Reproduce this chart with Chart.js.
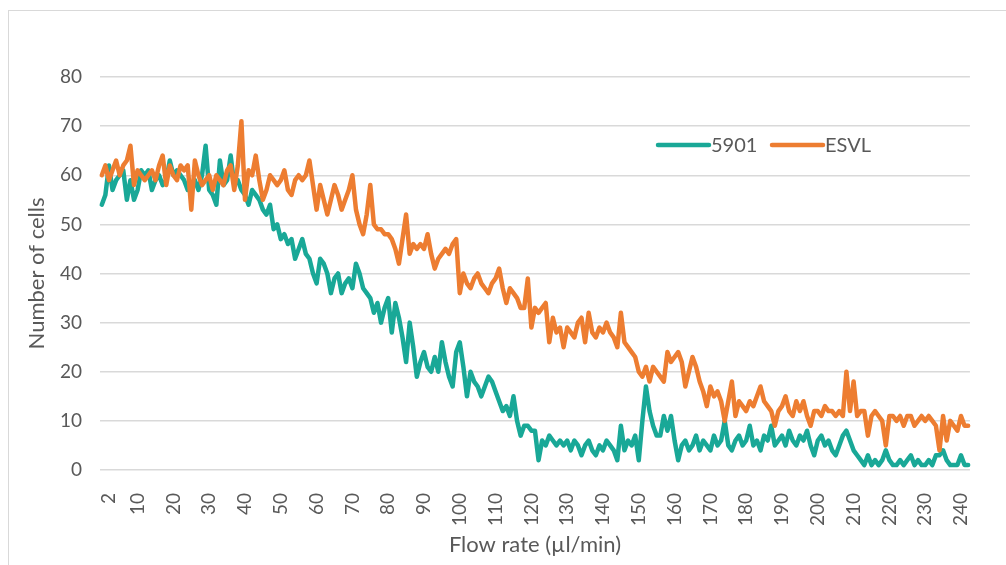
<!DOCTYPE html>
<html>
<head>
<meta charset="utf-8">
<title>Number of cells vs flow rate</title>
<script src="https://cdn.jsdelivr.net/npm/chart.js@4.4.1/dist/chart.umd.min.js"></script>
<style>
  html, body { margin: 0; padding: 0; background: #fff; overflow: hidden; }
  #frame { position: absolute; left: 8px; top: 10px; width: 1200px; height: 800px;
           border: 1px solid #d9d9d9; pointer-events: none; }
  #chart { position: absolute; left: 0; top: 0; }
</style>
</head>
<body>
<div id="frame"></div>
<canvas id="chart" width="1006" height="565"></canvas>
<script>
// flow rate categories (µl/min), one per measurement
const flowRate = [];
for (let f = 0; f <= 242; f++) flowRate.push(f);

// which categories get a label on the x axis
const labeledRates = [2, 10, 20, 30, 40, 50, 60, 70, 80, 90, 100, 110, 120,
    130, 140, 150, 160, 170, 180, 190, 200, 210, 220, 230, 240];

const yTicks = { min: 0, max: 80, step: 10 };

// number of cells, strain 5901
const cells5901 = [
    54, 56, 62, 57, 59, 60, 61, 55,
    59, 55, 57, 61, 60, 61, 57, 59, 60, 58,
    59, 63, 60, 61, 60, 59, 57, 58, 59, 57,
    60, 66, 57, 56, 54, 63, 58, 59, 64, 58,
    59, 57, 56, 54, 57, 56, 55, 53, 52, 54,
    49, 50, 47, 48, 46, 47, 43, 45, 47, 44,
    43, 40, 38, 43, 42, 40, 36, 39, 40, 36,
    38, 39, 37, 42, 40, 37, 36, 35, 32, 34,
    30, 33,
    35, 28, 34, 31, 27, 22, 30, 25, 19,
    22, 24, 21, 20, 23, 20, 26, 22, 19, 17,
    24, 26, 21, 15, 20, 18, 17, 15, 17, 19,
    18, 16, 14, 12, 13, 11, 15, 10, 7, 9,
    9, 8, 8, 2, 6, 5, 7, 6, 5, 6,
    5, 6, 4, 6, 5, 3, 5, 6, 4, 3,
    5, 4, 6, 5, 4, 2, 9, 4, 6, 5,
    7, 2, 10, 17, 12, 9, 7, 7, 11, 8,
    11, 6,
    2, 5, 6, 4, 5, 7, 4, 6, 5,
    4, 7, 5, 6, 10, 5, 4, 6, 7, 5,
    6, 9, 5, 6, 4, 7, 6, 9, 5, 6,
    7, 5, 8, 6, 5, 7, 6, 8, 5, 3,
    6, 7, 5, 6, 4, 3, 5, 7, 8, 6,
    4, 3, 2, 1, 3, 1, 2, 1, 2, 4,
    2, 1, 1, 2, 1, 2, 3, 1, 2, 1,
    1, 2, 1, 3, 3, 4, 2, 1, 1, 1,
    3, 1, 1
];

// number of cells, strain ESVL
const cellsESVL = [
    60, 62, 59, 61, 63, 60, 62, 63,
    66, 58, 61, 60, 59, 60, 61, 59, 62, 64,
    58, 62, 60, 59, 62, 61, 62, 53, 63, 60,
    58, 59, 60, 57, 60, 59, 58, 61, 62, 57,
    62, 71, 55, 61, 60, 64, 59, 55, 57, 60,
    59, 58, 59, 61, 57, 56, 59, 60, 59, 60,
    63, 58, 53, 58, 55, 52, 55, 58, 56, 53,
    55, 57, 60, 53, 50, 48, 52, 58, 50, 49,
    49, 48,
    48, 47, 45, 42, 47, 52, 44, 46, 45,
    46, 45, 48, 44, 41, 43, 44, 45, 44, 46,
    47, 36, 40, 38, 37, 39, 40, 38, 37, 36,
    38, 39, 41, 37, 34, 37, 36, 35, 33, 33,
    39, 29, 33, 32, 33, 34, 26, 31, 28, 29,
    25, 29, 28, 27, 30, 31, 26, 32, 28, 27,
    29, 28, 30, 28, 27, 25, 32, 26, 25, 24,
    23, 20, 19, 21, 18, 21, 20, 19, 18, 24,
    22, 23,
    24, 22, 17, 20, 23, 21, 18, 16, 13,
    17, 15, 16, 14, 10, 14, 18, 11, 14, 13,
    12, 14, 13, 15, 17, 14, 13, 12, 9, 12,
    13, 15, 12, 11, 14, 12, 14, 11, 9, 12,
    12, 11, 13, 12, 12, 11, 12, 11, 20, 12,
    18, 11, 12, 12, 7, 11, 12, 11, 10, 5,
    11, 11, 10, 11, 9, 11, 11, 9, 10, 11,
    10, 11, 10, 9, 4, 11, 6, 10, 9, 8,
    11, 9, 9
];

const TEAL = '#19a897';
const ORANGE = '#ed7d31';
const TEXT = '#595959';
const FONT = 'Lato';

// legend sits inside the plot, top right, like the Excel one
const insideLegend = {
    id: 'insideLegend',
    afterDraw(chart) {
        const ctx = chart.ctx;
        const items = [
            { label: '5901', color: TEAL, x: 658 },
            { label: 'ESVL', color: ORANGE, x: 772 }
        ];
        const y = 145;
        ctx.save();
        ctx.lineWidth = 4.5;
        ctx.lineCap = 'round';
        ctx.font = '20px ' + FONT;
        ctx.textBaseline = 'middle';
        ctx.fillStyle = TEXT;
        items.forEach(it => {
            ctx.strokeStyle = it.color;
            ctx.beginPath();
            ctx.moveTo(it.x, y);
            ctx.lineTo(it.x + 51, y);
            ctx.stroke();
            ctx.fillText(it.label, it.x + 53, y + 1);
        });
        ctx.restore();
    }
};

new Chart(document.getElementById('chart'), {
    type: 'line',
    data: {
        labels: flowRate,
        datasets: [
            {
                label: '5901',
                data: cells5901,
                borderColor: TEAL,
                backgroundColor: TEAL,
                borderWidth: 4.5,
                pointRadius: 0,
                tension: 0,
                borderJoinStyle: 'round',
                borderCapStyle: 'round',
                order: 2
            },
            {
                label: 'ESVL',
                data: cellsESVL,
                borderColor: ORANGE,
                backgroundColor: ORANGE,
                borderWidth: 4.5,
                pointRadius: 0,
                tension: 0,
                borderJoinStyle: 'round',
                borderCapStyle: 'round',
                order: 1
            }
        ]
    },
    options: {
        responsive: false,
        animation: false,
        layout: { padding: { left: 0, right: 28, top: 77, bottom: 0 } },
        plugins: {
            legend: { display: false },
            tooltip: { enabled: false }
        },
        scales: {
            x: {
                type: 'category',
                offset: true,
                grid: { display: false },
                border: { display: false },
                ticks: {
                    autoSkip: false,
                    minRotation: 90,
                    maxRotation: 90,
                    padding: 15,
                    color: TEXT,
                    font: { family: FONT, size: 19 },
                    callback: (val, idx) => labeledRates.includes(flowRate[idx]) ? String(flowRate[idx]) : ''
                },
                title: {
                    display: true,
                    text: 'Flow rate (µl/min)',
                    color: TEXT,
                    font: { family: FONT, size: 22 },
                    padding: { top: 0, bottom: 7 }
                },
                afterFit: s => { s.height = 95; }
            },
            y: {
                min: yTicks.min,
                max: yTicks.max,
                grid: { color: '#d9d9d9', lineWidth: 1.5, drawTicks: false },
                border: { display: false },
                ticks: {
                    stepSize: yTicks.step,
                    padding: 18,
                    color: TEXT,
                    font: { family: FONT, size: 19 }
                },
                title: {
                    display: true,
                    text: 'Number of cells',
                    color: TEXT,
                    font: { family: FONT, size: 22 },
                    padding: { top: 24, bottom: 0 }
                },
                afterFit: s => { s.width = 100; }
            }
        }
    },
    plugins: [insideLegend]
});
</script>
</body>
</html>
